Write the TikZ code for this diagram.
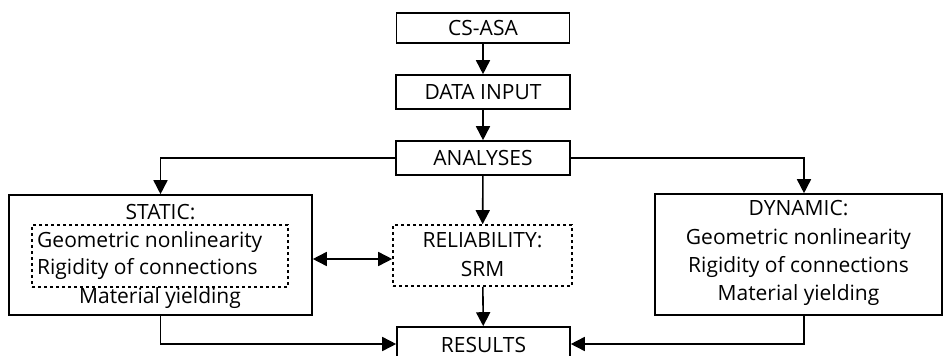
\documentclass[tikz,border=0pt]{standalone}
\usepackage{fontspec}
\setmainfont{Open Sans}
\usetikzlibrary{arrows.meta}
\begin{document}
\begin{tikzpicture}[x=1pt,y=-1pt,
  box/.style={draw,line width=1.6pt,inner sep=0pt},
  dotbox/.style={draw,line width=1.6pt,dash pattern=on 3pt off 3pt,inner sep=0pt},
  txt/.style={font=\fontsize{21}{24}\selectfont,inner sep=0pt},
  conn/.style={line width=1.6pt,-{Triangle[width=14pt,length=14pt]}}]
\useasboundingbox (0,0) rectangle (943,356);
% boxes
\node[box,minimum width=173pt,minimum height=30pt] (cs) at (483,28) {};
\node[txt] at (cs.center) {CS-ASA};
\node[box,minimum width=174pt,minimum height=34pt] (di) at (483,92) {};
\node[txt] at (di.center) {DATA INPUT};
\node[box,minimum width=174pt,minimum height=34pt] (an) at (483,158) {};
\node[txt] at (an.center) {ANALYSES};
\node[box,minimum width=303pt,minimum height=120pt] (st) at (160.5,255) {};
\node[txt] at (160.5,212) {STATIC:};
\node[dotbox,minimum width=256pt,minimum height=62pt] (sti) at (160,256) {};
\node[txt,anchor=west] at (37,242) {Geometric nonlinearity};
\node[txt,anchor=west] at (37,269) {Rigidity of connections};
\node[txt] at (160,298) {Material yielding};
\node[dotbox,minimum width=179pt,minimum height=61pt] (rel) at (482.5,255.5) {};
\node[txt] at (482.5,240) {RELIABILITY:};
\node[txt] at (482.5,269) {SRM};
\node[box,minimum width=173pt,minimum height=40pt] (res) at (483.5,347) {};
\node[txt] at (483.5,345) {RESULTS};
\node[box,minimum width=287pt,minimum height=121pt] (dy) at (798.5,254.5) {};
\node[txt] at (798.5,208) {DYNAMIC:};
\node[txt] at (798.5,239) {Geometric nonlinearity};
\node[txt] at (798.5,267) {Rigidity of connections};
\node[txt] at (798.5,295) {Material yielding};
% connectors
\draw[conn] (cs) -- (di);
\draw[conn] (di) -- (an);
\draw[conn] (an) -- (rel);
\draw[conn] (rel) -- (res);
\draw[conn] (an.west) -| (st.north);
\draw[conn] (an.east) -| (dy.north -| 804,0);
\draw[conn,{Triangle[width=14pt,length=14pt]}-{Triangle[width=14pt,length=14pt]}] (st.east |- 0,259) -- (rel.west |- 0,259);
\draw[conn] (st.south) |- (res.west |- 0,344);
\draw[conn] (dy.south -| 804,0) |- (res.east |- 0,344);
\end{tikzpicture}
\end{document}
